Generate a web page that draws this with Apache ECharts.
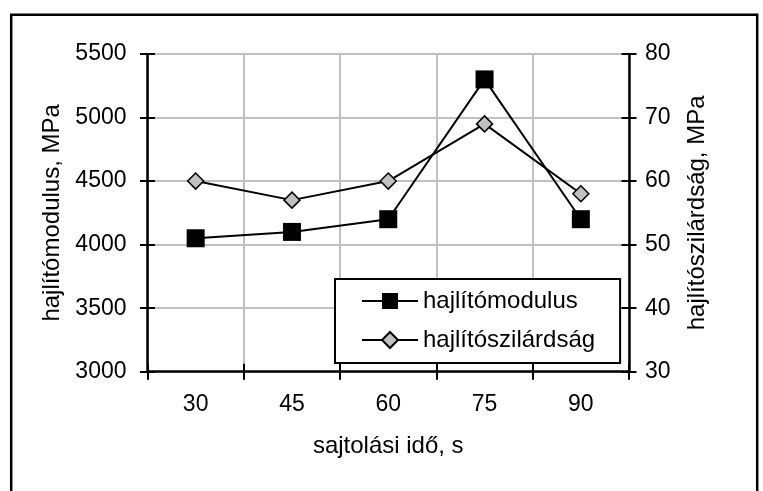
<!DOCTYPE html>
<html>
<head>
<meta charset="utf-8">
<script src="https://cdn.jsdelivr.net/npm/echarts@6/dist/echarts.min.js"></script>
<style>
html,body{margin:0;padding:0;background:#fff;}
#c{width:763px;height:491px;}
</style>
</head>
<body>
<div id="c"></div>
<script>
const categories = ['30', '45', '60', '75', '90'];
const modulus = [4050, 4100, 4200, 5300, 4200];
const strength = [60, 57, 60, 69, 58];
const seriesNames = ['hajlítómodulus', 'hajlítószilárdság'];
const xName = 'sajtolási idő, s';
const yLeftName = 'hajlítómodulus, MPa';
const yRightName = 'hajlítószilárdság, MPa';

const FONT = 'Liberation Sans, Arial, sans-serif';
const chart = echarts.init(document.getElementById('c'), null, {renderer: 'canvas'});

const axisLine = {show: true, lineStyle: {color: '#000', width: 2.5}};
const grid = {left: 147.5, right: 134, top: 54, bottom: 119.3, containLabel: false};
const plain = function (v) { return String(v); };

chart.setOption({
  backgroundColor: '#fff',
  animation: false,
  textStyle: {fontFamily: FONT},
  graphic: [{
    type: 'rect',
    left: 8.7, top: 12.3,
    shape: {width: 746, height: 520},
    style: {fill: 'none', stroke: '#000', lineWidth: 2.5},
    z: 100
  }],
  grid: grid,
  legend: {
    orient: 'vertical',
    left: 335, top: 279,
    padding: [10, 25, 11, 26],
    itemWidth: 56, itemHeight: 20, itemGap: 15,
    borderColor: '#000', borderWidth: 2,
    backgroundColor: '#fff',
    textStyle: {fontFamily: FONT, fontSize: 24, color: '#000', lineHeight: 20},
    data: seriesNames
  },
  xAxis: [{
    type: 'category',
    data: categories,
    boundaryGap: true,
    position: 'bottom',
    axisLine: axisLine,
    axisTick: {show: true, inside: false, length: 8, lineStyle: {color: '#000', width: 2}},
    axisLabel: {fontFamily: FONT, fontSize: 23, color: '#000', margin: 21},
    splitLine: {show: true, lineStyle: {color: '#c0c0c0', width: 2}},
    name: xName,
    nameLocation: 'middle',
    nameGap: 63,
    nameTextStyle: {fontFamily: FONT, fontSize: 24, color: '#000'}
  }, {
    type: 'category',
    data: categories,
    boundaryGap: true,
    position: 'bottom',
    axisLine: {show: false},
    axisTick: {show: true, inside: true, length: 8, lineStyle: {color: '#000', width: 2}},
    axisLabel: {show: false},
    splitLine: {show: false}
  }],
  yAxis: [{
    type: 'value',
    position: 'left',
    min: 3000, max: 5500, interval: 500,
    axisLine: axisLine,
    axisTick: {show: true, inside: false, length: 7.5, lineStyle: {color: '#000', width: 2}},
    axisLabel: {fontFamily: FONT, fontSize: 23, color: '#000', margin: 21, formatter: plain},
    splitLine: {show: true, lineStyle: {color: '#c0c0c0', width: 2}},
    name: yLeftName,
    nameLocation: 'middle',
    nameRotate: 90,
    nameGap: 80,
    nameTextStyle: {fontFamily: FONT, fontSize: 24, color: '#000'}
  }, {
    type: 'value',
    position: 'right',
    min: 30, max: 80, interval: 10,
    axisLine: axisLine,
    axisTick: {show: true, inside: false, length: 7.5, lineStyle: {color: '#000', width: 2}},
    axisLabel: {fontFamily: FONT, fontSize: 23, color: '#000', margin: 16, formatter: plain},
    splitLine: {show: false},
    name: yRightName,
    nameLocation: 'middle',
    nameRotate: 90,
    nameGap: 56,
    nameTextStyle: {fontFamily: FONT, fontSize: 24, color: '#000'}
  }, {
    type: 'value',
    position: 'left',
    min: 3000, max: 5500, interval: 500,
    axisLine: {show: false},
    axisTick: {show: true, inside: true, length: 7.5, lineStyle: {color: '#000', width: 2}},
    axisLabel: {show: false},
    splitLine: {show: false}
  }, {
    type: 'value',
    position: 'right',
    min: 30, max: 80, interval: 10,
    axisLine: {show: false},
    axisTick: {show: true, inside: true, length: 7.5, lineStyle: {color: '#000', width: 2}},
    axisLabel: {show: false},
    splitLine: {show: false}
  }],
  series: [{
    name: seriesNames[0],
    type: 'line',
    xAxisIndex: 0,
    yAxisIndex: 0,
    data: modulus,
    symbol: 'rect',
    symbolSize: 18,
    lineStyle: {color: '#000', width: 2},
    itemStyle: {color: '#000', borderColor: '#000', borderWidth: 0},
    z: 3
  }, {
    name: seriesNames[1],
    type: 'line',
    xAxisIndex: 0,
    yAxisIndex: 1,
    data: strength,
    symbol: 'diamond',
    symbolSize: 16,
    lineStyle: {color: '#000', width: 2},
    itemStyle: {color: '#c0c0c0', borderColor: '#000', borderWidth: 1.5},
    z: 4
  }]
});
</script>
</body>
</html>
